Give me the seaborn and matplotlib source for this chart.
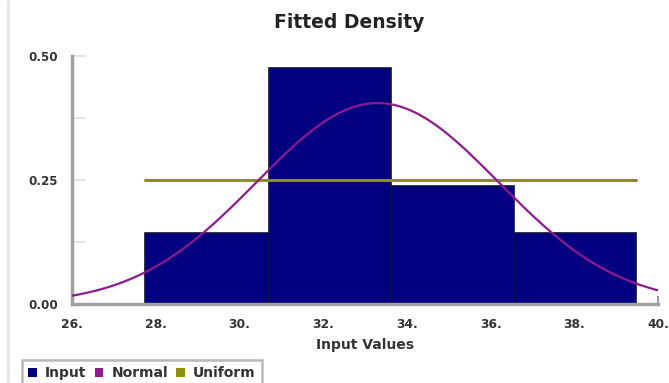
import numpy as np
import pandas as pd
import matplotlib
matplotlib.use("Agg")
import matplotlib.pyplot as plt
import seaborn as sns
from matplotlib.lines import Line2D
from matplotlib.patches import Patch

# Histogram of the input sample (relative frequency per bin)
bin_edges = [27.74, 30.70, 33.63, 36.57, 39.48]
bin_freq = [0.143, 0.476, 0.238, 0.143]

# Fitted distributions
normal_mean = 33.3
normal_sd = 2.89
uniform_low = 27.74
uniform_high = 39.48

x_ticks = [26, 28, 30, 32, 34, 36, 38, 40]
x_tick_labels = ["26.", "28.", "30.", "32.", "34.", "36.", "38.", "40."]
y_ticks = [0.0, 0.25, 0.5]
y_tick_labels = ["0.00", "0.25", "0.50"]

NAVY = "#000080"
PURPLE = "#8e1a8e"
OLIVE = "#8f8f12"
AXIS_GRAY = "#a0a0a0"
TEXT = "#333333"

sns.set_style("white")
plt.rcParams["font.family"] = ["DejaVu Sans"]
plt.rcParams["font.weight"] = "bold"

fig = plt.figure(figsize=(6.69, 3.83), dpi=100)
ax = fig.add_axes([72 / 669, 1 - 304 / 383, 586 / 669, 248 / 383])

edges = list(bin_edges)
centers = [(a + b) / 2 for a, b in zip(edges[:-1], edges[1:])]
bin_width = float(np.mean(np.diff(edges)))
hist_df = pd.DataFrame({"value": centers, "freq": bin_freq})
sns.histplot(data=hist_df, x="value", weights="freq", bins=edges, stat="count",
             color=NAVY, alpha=1.0, edgecolor="#101040", linewidth=1.2, ax=ax,
             zorder=2)

# Fitted curves, scaled to the bin width so they share the histogram's scale
xs = np.linspace(26, 40, 400)
normal_y = bin_width * np.exp(-0.5 * ((xs - normal_mean) / normal_sd) ** 2) / (normal_sd * np.sqrt(2 * np.pi))
sns.lineplot(x=xs, y=normal_y, color=PURPLE, linewidth=1.6, ax=ax, zorder=4)

ux = np.array([uniform_low, uniform_high])
uy = np.full(2, bin_width / (uniform_high - uniform_low))
sns.lineplot(x=ux, y=uy, color=OLIVE, linewidth=2.2, ax=ax, zorder=3)

ax.set_xlim(26, 40)
ax.set_ylim(0, 0.5)
ax.set_xticks(x_ticks)
ax.set_xticklabels(x_tick_labels, fontsize=8.8, fontweight="bold", color=TEXT)
ax.set_yticks(y_ticks)
ax.set_yticklabels(y_tick_labels, fontsize=8.6, fontweight="bold", color=TEXT)
ax.set_yticks([0.125, 0.375], minor=True)
ax.tick_params(axis="y", which="both", direction="in", length=10, width=1.5,
               color="#e4e4e4", pad=10, left=True)
ax.tick_params(axis="x", which="major", direction="in", length=6, width=1.2,
               color="#8080b0", pad=10, bottom=True)
ax.set_xlabel("Input Values", fontsize=10, fontweight="bold", color=TEXT, labelpad=5)
ax.set_ylabel("")

for side in ["top", "right"]:
    ax.spines[side].set_visible(False)
for side in ["left", "bottom"]:
    ax.spines[side].set_color(AXIS_GRAY)
    ax.spines[side].set_linewidth(2.5)

fig.text(0.522, 1 - 23 / 383, "Fitted Density", ha="center", va="center",
         fontsize=13.5, fontweight="bold", color="#222222")

# Thin frame line at the left edge of the chart area
fig.add_artist(Line2D([8 / 669, 8 / 669], [0, 1], transform=fig.transFigure,
                      color="#e6e6e6", linewidth=2))

handles = [Patch(facecolor=NAVY, edgecolor="none"),
           Patch(facecolor=PURPLE, edgecolor="none"),
           Patch(facecolor=OLIVE, edgecolor="none")]
leg = fig.legend(handles, ["Input", "Normal", "Uniform"], loc="upper left",
                 bbox_to_anchor=(22 / 669, 1 - 360 / 383), ncol=3,
                 fontsize=10, handlelength=0.6, handleheight=0.6,
                 handletextpad=0.6, columnspacing=0.6, borderpad=0.45,
                 frameon=True, fancybox=False, borderaxespad=0)
leg.get_frame().set_edgecolor("#a8a8a8")
leg.get_frame().set_linewidth(1.8)
for t in leg.get_texts():
    t.set_color(TEXT)

fig.savefig("out.png", dpi=100)
